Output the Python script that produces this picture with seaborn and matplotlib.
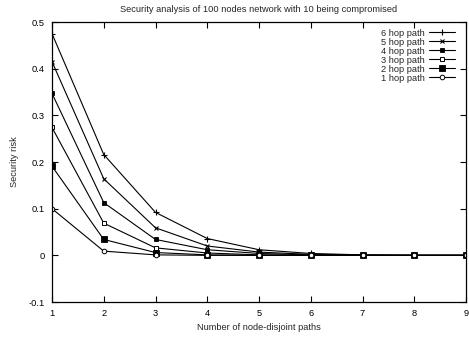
import matplotlib
matplotlib.use("Agg")
import matplotlib.pyplot as plt
import seaborn as sns
import pandas as pd

paths = [1, 2, 3, 4, 5, 6, 7, 8, 9]
hop6 = [0.475, 0.216, 0.092, 0.036, 0.012, 0.004, 0.001, 0.0, 0.0]
hop5 = [0.415, 0.164, 0.059, 0.020, 0.007, 0.002, 0.0005, 0.0, 0.0]
hop4 = [0.347, 0.113, 0.034, 0.012, 0.004, 0.001, 0.0, 0.0, 0.0]
hop3 = [0.274, 0.069, 0.016, 0.005, 0.001, 0.0, 0.0, 0.0, 0.0]
hop2 = [0.191, 0.034, 0.006, 0.001, 0.0, 0.0, 0.0, 0.0, 0.0]
hop1 = [0.100, 0.009, 0.001, 0.0, 0.0, 0.0, 0.0, 0.0, 0.0]
labels = ["6 hop path", "5 hop path", "4 hop path", "3 hop path", "2 hop path", "1 hop path"]

sns.set_style("ticks")
plt.rcParams["font.family"] = ["Liberation Sans", "DejaVu Sans"]

fs = 6.7
fig = plt.figure(figsize=(4.69, 3.40), dpi=100)
ax = fig.add_axes([52 / 469, 38 / 340, 414 / 469, 280 / 340])

series = [hop6, hop5, hop4, hop3, hop2, hop1]
styles = [
    dict(marker="+", markersize=4, mfc="black", mew=0.8),
    dict(marker="x", markersize=3, mfc="black", mew=0.8),
    dict(marker="s", markersize=2.5, mfc="black", mew=0.6),
    dict(marker="s", markersize=3.3, mfc="white", mew=0.7),
    dict(marker="s", markersize=3.8, mfc="black", mew=0.6),
    dict(marker="o", markersize=3.3, mfc="white", mew=0.7),
]
for vals, lab, st in zip(series, labels, styles):
    df = pd.DataFrame({"x": paths, "y": vals})
    sns.lineplot(data=df, x="x", y="y", ax=ax, color="black", linewidth=0.8,
                 label=lab, mec="black", **st)

ax.set_xlim(1, 9)
ax.set_ylim(-0.1, 0.5)
ax.set_xticks(paths)
ax.set_yticks([-0.1, 0, 0.1, 0.2, 0.3, 0.4, 0.5])
ax.set_yticklabels(["-0.1", "0", "0.1", "0.2", "0.3", "0.4", "0.5"])
ax.tick_params(direction="in", length=4, width=0.8, top=True, right=True,
               labelsize=fs, colors="black", pad=5)
for s in ax.spines.values():
    s.set_visible(True)
    s.set_color("black")
    s.set_linewidth(0.9)

ax.set_xlabel("Number of node-disjoint paths", fontsize=fs, labelpad=4)
ax.set_ylabel("Security risk", fontsize=fs, labelpad=7)
ax.set_title("Security analysis of 100 nodes network with 10 being compromised",
             fontsize=fs, pad=7)

leg = ax.legend(loc="upper right", frameon=False, fontsize=fs, markerfirst=False,
                handlelength=2.8, handletextpad=0.5, labelspacing=0.0,
                borderaxespad=0.3, bbox_to_anchor=(0.99, 1.0))
for t in leg.get_texts():
    t.set_ha("right")
leg._legend_box.align = "right"

fig.savefig("out.png", dpi=100)
